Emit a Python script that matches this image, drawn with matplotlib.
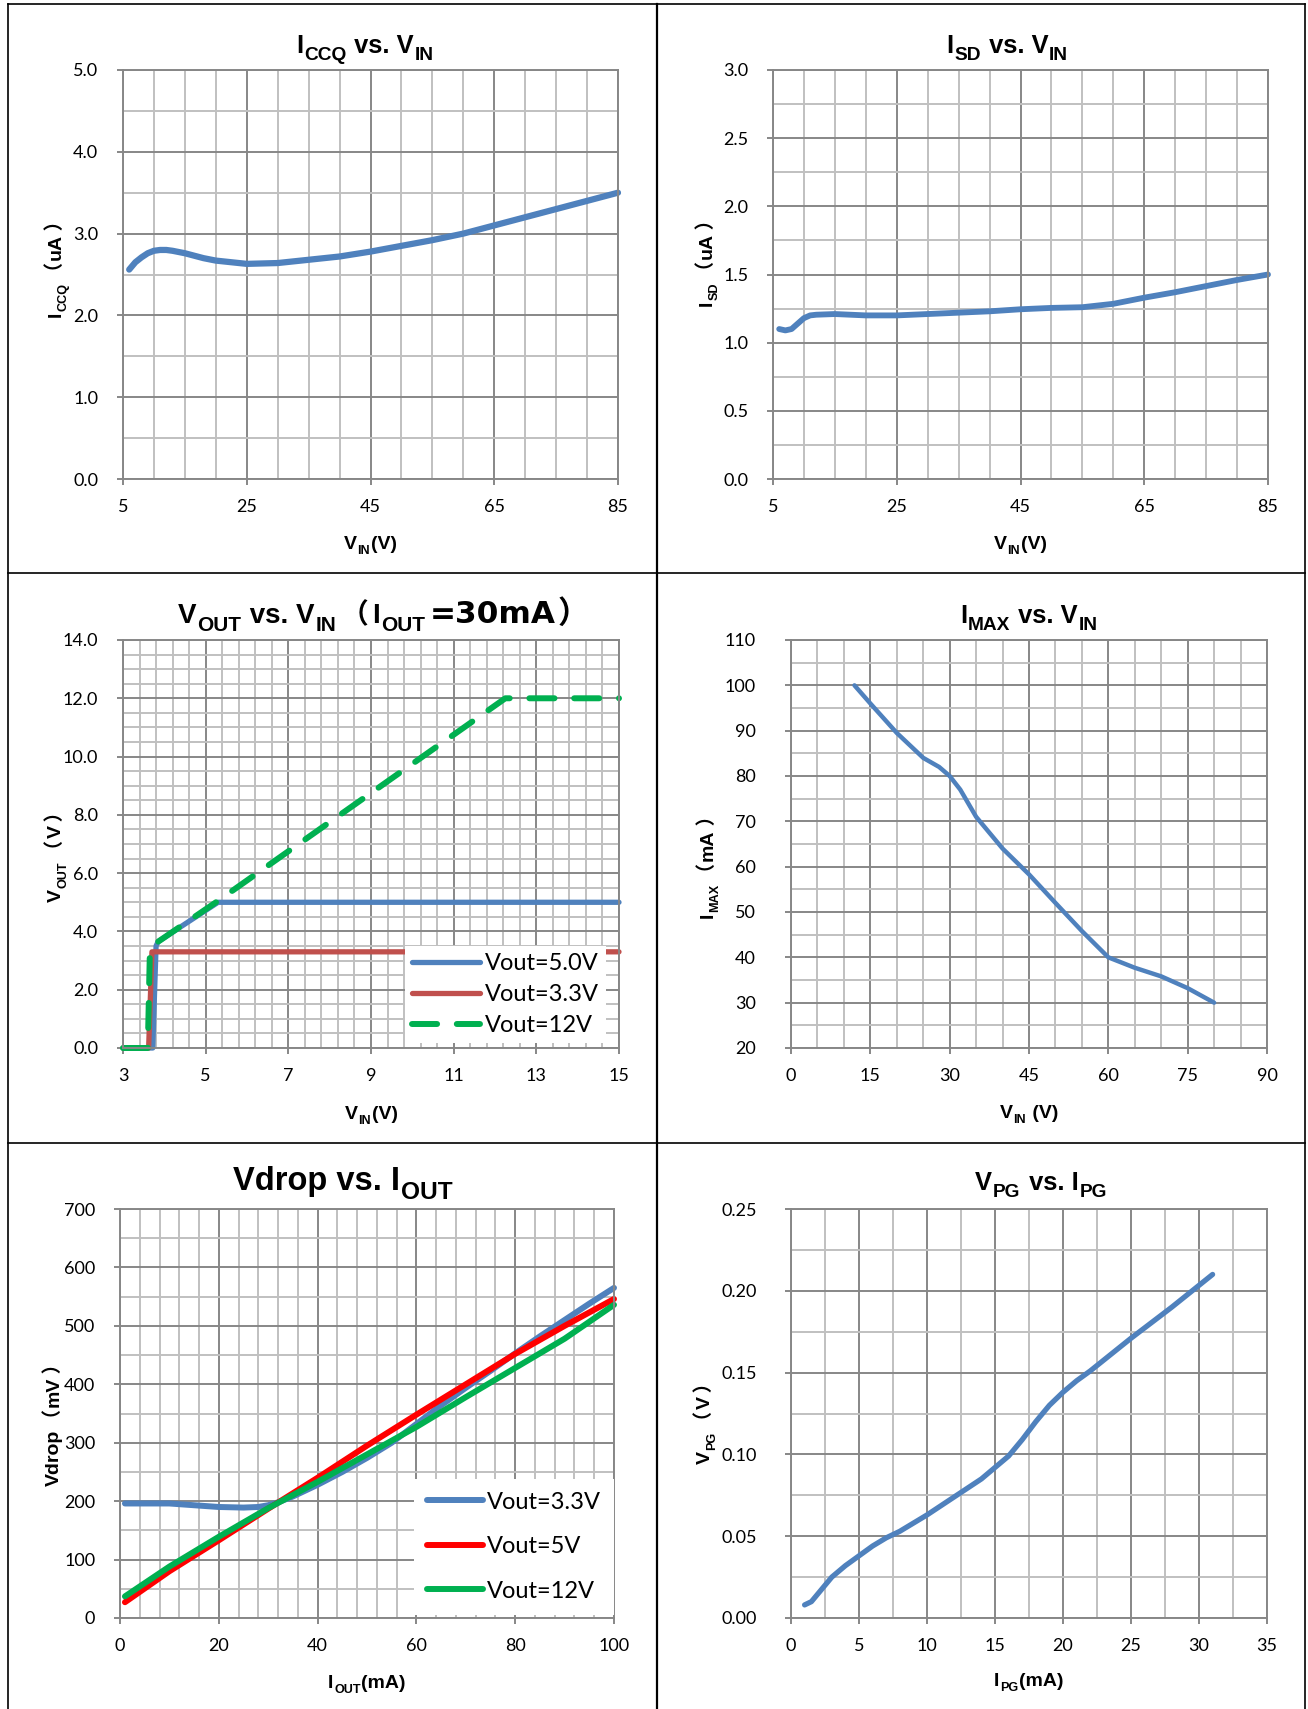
import numpy as np
import matplotlib
matplotlib.use('Agg')
import matplotlib.pyplot as plt
from matplotlib.ticker import FixedLocator, FormatStrFormatter
from matplotlib.transforms import IdentityTransform
from matplotlib.lines import Line2D

W, H, DPI = 1308, 1709, 100

# ---- Daten ----
# I_CCQ vs. V_IN
iccq_vin = [6, 7, 8, 9, 10, 11, 12, 13, 15, 18, 20, 25, 30, 35, 40, 45, 50, 55, 60, 65, 70, 75, 80, 85]
iccq_ua = [2.56, 2.65, 2.71, 2.76, 2.79, 2.80, 2.80, 2.79, 2.76, 2.70, 2.67, 2.63, 2.64, 2.68, 2.72,
           2.78, 2.85, 2.92, 3.00, 3.10, 3.20, 3.30, 3.40, 3.50]

# I_SD vs. V_IN
isd_vin = [6, 7, 8, 9, 10, 11, 12, 15, 20, 25, 30, 35, 40, 45, 50, 55, 60, 65, 70, 75, 80, 85]
isd_ua = [1.10, 1.09, 1.10, 1.14, 1.18, 1.20, 1.205, 1.21, 1.20, 1.20, 1.21, 1.22, 1.23, 1.245,
          1.255, 1.26, 1.285, 1.33, 1.37, 1.415, 1.46, 1.50]

# V_OUT vs. V_IN (I_OUT = 30mA)
vout5_vin = [3.0, 3.72, 3.80, 3.85, 5.3, 15.0]
vout5 = [0.0, 0.0, 3.5, 3.65, 5.0, 5.0]
vout33_vin = [3.0, 3.62, 3.70, 15.0]
vout33 = [0.0, 0.0, 3.3, 3.3]
vout12_vin = [3.0, 3.60, 3.65, 3.80, 5.3, 12.25, 15.0]
vout12 = [0.0, 0.0, 3.3, 3.6, 5.05, 12.0, 12.0]

# I_MAX vs. V_IN
imax_vin = [12, 15, 20, 25, 28, 30, 32, 35, 40, 45, 50, 55, 60, 65, 70, 75, 80]
imax_ma = [100, 96, 89.5, 84, 82, 80, 77, 71, 64, 58.3, 52, 45.8, 40, 37.7, 35.8, 33.2, 30]

# Vdrop vs. I_OUT
vd33_iout = [1, 5, 10, 15, 20, 25, 28, 30, 32, 35, 40, 45, 50, 55, 60, 65, 70, 75, 80, 85, 90, 95, 100]
vd33_mv = [196, 196, 196, 193, 190, 189, 190, 193, 198, 208, 228, 250, 274, 300, 332, 364, 394,
           423, 453, 482, 510, 538, 565]
vd5_iout = [1, 10, 20, 30, 40, 50, 60, 70, 80, 90, 100]
vd5_mv = [27, 80, 133, 187, 240, 295, 348, 400, 452, 500, 546]
vd12_iout = [1, 10, 20, 30, 40, 50, 60, 70, 80, 90, 100]
vd12_mv = [37, 88, 139, 188, 233, 280, 327, 378, 428, 478, 536]

# V_PG vs. I_PG
vpg_ipg = [1, 1.5, 2, 3, 4, 5, 6, 7, 8, 10, 12, 14, 15, 16, 17, 18, 19, 20, 21, 22, 25, 28, 31]
vpg_v = [0.008, 0.010, 0.015, 0.025, 0.032, 0.038, 0.044, 0.049, 0.053, 0.063, 0.074, 0.085,
         0.092, 0.099, 0.109, 0.120, 0.130, 0.138, 0.145, 0.151, 0.171, 0.190, 0.210]

# Achsenteilungen
ticks_vin85 = [5, 25, 45, 65, 85]
ticks_iccq = [0, 1, 2, 3, 4, 5]
ticks_isd = [0, 0.5, 1.0, 1.5, 2.0, 2.5, 3.0]
ticks_vin15 = [3, 5, 7, 9, 11, 13, 15]
ticks_vout = [0, 2, 4, 6, 8, 10, 12, 14]
ticks_vin90 = [0, 15, 30, 45, 60, 75, 90]
ticks_imax = [20, 30, 40, 50, 60, 70, 80, 90, 100, 110]
ticks_iout = [0, 20, 40, 60, 80, 100]
ticks_vdrop = [0, 100, 200, 300, 400, 500, 600, 700]
ticks_ipg = [0, 5, 10, 15, 20, 25, 30, 35]
ticks_vpg = [0, 0.05, 0.10, 0.15, 0.20, 0.25]

BLUE = '#4F81BD'
RED = '#C0504D'
GREEN = '#00B050'
GRID_MAJ = '#878787'
GRID_MIN = '#C0C0C0'
TXT_FONT = ['Liberation Sans', 'Noto Sans CJK SC', 'DejaVu Sans']
WIDE_FONT = ['DejaVu Sans', 'Noto Sans CJK SC']
HAIR = '\u200a'  # schmales Leerzeichen als Anker vor den vollbreiten Klammern

plt.rcParams['font.family'] = ['Lato', 'DejaVu Sans']

fig = plt.figure(figsize=(W / DPI, H / DPI), dpi=DPI)
fig.patch.set_facecolor('white')
renderer = fig.canvas.get_renderer()


def rich(parts, center, base, size, vertical=False, sub_scale=0.75, drop=0.28, gap=0.04):
    # Text mit Tiefstellungen aus Einzelstuecken zusammensetzen (Pixel, oben = 0)
    # Teil: (text, tiefgestellt, Abstand davor in px, Schriftfamilie, Groessenfaktor)
    px = size * DPI / 72
    items = []
    for i, p in enumerate(parts):
        s, sub = p[0], p[1]
        pre = p[2] if len(p) > 2 else gap * px
        fam = p[3] if len(p) > 3 and p[3] else TXT_FONT
        scale = p[4] if len(p) > 4 else 1.0
        fs = size * scale * (sub_scale if sub else 1.0)
        t = fig.text(0, 0, s, fontsize=fs, fontweight='bold', family=fam, ha='left',
                     va='baseline', rotation_mode='anchor', transform=IdentityTransform())
        items.append((t, t.get_window_extent(renderer).width, sub, pre if i else 0))
    total = sum(w + pre for _, w, _, pre in items)
    pos = -total / 2
    for t, w, sub, pre in items:
        pos += pre
        d = drop * px if sub else 0
        if vertical:
            t.set_position((base + d, (H - center) + pos))
            t.set_rotation(90)
        else:
            t.set_position((center + pos, H - base - d))
        pos += w


def make_axes(rect, xlim, xticks, xstep, ylim, yticks, ystep, yfmt, ypad, xpad=10):
    l, r, t, b = rect
    ax = fig.add_axes([l / W, 1 - b / H, (r - l) / W, (b - t) / H])
    ax.set_xlim(xlim)
    ax.set_ylim(ylim)
    ax.xaxis.set_major_locator(FixedLocator(xticks))
    ax.yaxis.set_major_locator(FixedLocator(yticks))
    ax.xaxis.set_minor_locator(FixedLocator(np.arange(xlim[0], xlim[1] + xstep / 2, xstep)))
    ax.yaxis.set_minor_locator(FixedLocator(np.arange(ylim[0], ylim[1] + ystep / 2, ystep)))
    ax.yaxis.set_major_formatter(FormatStrFormatter(yfmt))
    ax.grid(which='minor', color=GRID_MIN, lw=1.4)
    ax.grid(which='major', color=GRID_MAJ, lw=1.4)
    ax.set_axisbelow(True)
    for sp in ax.spines.values():
        sp.set_color(GRID_MAJ)
        sp.set_linewidth(1.4)
    ax.tick_params(which='major', direction='out', length=4.3, width=1.4, color=GRID_MAJ,
                   labelsize=13, labelcolor='black')
    ax.tick_params(axis='y', which='major', pad=ypad)
    ax.tick_params(axis='x', which='major', pad=xpad)
    ax.tick_params(which='minor', length=0)
    return ax


def ylabel(name, sub, unit, center, base):
    # Einheit in vollbreiten Klammern wie im Original
    parts = [(name, 0)]
    if sub:
        parts.append((sub, 1))
    parts += [(HAIR + '（', 0, 0), (unit, 0, 2), (HAIR + '）', 0, 2)]
    rich(parts, center, base, 14, vertical=True, sub_scale=0.65)


LW = dict(solid_capstyle='round', solid_joinstyle='round', clip_on=False)
LEG = dict(loc='lower right', borderaxespad=0, frameon=True, fancybox=False, edgecolor='none',
           facecolor='white', framealpha=1)

# 1) I_CCQ vs. V_IN
ax1 = make_axes((123, 618, 70, 479), (5, 85), ticks_vin85, 5, (0, 5), ticks_iccq, 0.5, '%.1f', 13.5)
ax1.plot(iccq_vin, iccq_ua, color=BLUE, lw=4.5, **LW)
rich([('I', 0), ('CCQ', 1), (' vs. V', 0), ('IN', 1)], 365, 53, 18.4)
rich([('V', 0), ('IN', 1), ('(V)', 0)], 370, 549, 14, sub_scale=0.65)
ylabel('I', 'CCQ', 'uA', 264, 61)

# 2) I_SD vs. V_IN
ax2 = make_axes((773, 1268, 70, 479), (5, 85), ticks_vin85, 5, (0, 3), ticks_isd, 0.25, '%.1f', 13.5)
ax2.plot(isd_vin, isd_ua, color=BLUE, lw=4.2, **LW)
rich([('I', 0), ('SD', 1), (' vs. V', 0), ('IN', 1)], 1007, 53, 18.4)
rich([('V', 0), ('IN', 1), ('(V)', 0)], 1020, 549, 14, sub_scale=0.65)
ylabel('I', 'SD', 'uA', 258, 712)

# 3) V_OUT vs. V_IN
ax3 = make_axes((123, 619, 640, 1048), (3, 15), ticks_vin15, 0.4, (0, 14), ticks_vout, 0.5, '%.1f', 13.5)
ax3.plot(vout5_vin, vout5, color=BLUE, lw=3.8, label='Vout=5.0V', **LW)
ax3.plot(vout33_vin, vout33, color=RED, lw=3.8, label='Vout=3.3V', **LW)
ax3.plot(vout12_vin, vout12, color=GREEN, lw=4.3, ls=(0, (4.2, 3.3)), dash_capstyle='round',
         clip_on=False, label='Vout=12V')
ax3.legend(bbox_to_anchor=(0.974, 0.012), fontsize=17, handlelength=2.9, handletextpad=0.2,
           labelspacing=0.42, borderpad=0.3, **LEG)
rich([('V', 0), ('OUT', 1), (' vs. V', 0), ('IN', 1), ('（', 0, 4, WIDE_FONT), ('I', 0, 4),
      ('OUT', 1), ('=30mA', 0, 4, WIDE_FONT, 1.12), ('）', 0, 2, WIDE_FONT, 1.12)], 383, 623, 20)
rich([('V', 0), ('IN', 1), ('(V)', 0)], 371, 1119, 14, sub_scale=0.65)
ylabel('V', 'OUT', 'V', 852, 61)

# 4) I_MAX vs. V_IN
ax4 = make_axes((791, 1267, 640, 1048), (0, 90), ticks_vin90, 5, (20, 110), ticks_imax, 5, '%d', 21)
ax4.plot(imax_vin, imax_ma, color=BLUE, lw=3.2, **LW)
rich([('I', 0), ('MAX', 1), (' vs. V', 0), ('IN', 1)], 1029, 623, 18.4)
rich([('V', 0), ('IN', 1), (' (V)', 0)], 1029, 1118, 14, sub_scale=0.65)
ylabel('I', 'MAX', 'mA', 862, 713)

# 5) Vdrop vs. I_OUT
ax5 = make_axes((120, 614, 1209, 1618), (0, 100), ticks_iout, 4, (0, 700), ticks_vdrop, 50, '%d', 13.5)
ax5.plot(vd33_iout, vd33_mv, color=BLUE, lw=4.3, label='Vout=3.3V', **LW)
ax5.plot(vd5_iout, vd5_mv, color='#FF0000', lw=4.3, label='Vout=5V', **LW)
ax5.plot(vd12_iout, vd12_mv, color=GREEN, lw=4.3, label='Vout=12V', **LW)
ax5.legend(bbox_to_anchor=(1.0, 0.008), fontsize=17, handlelength=2.4, handletextpad=0.15,
           labelspacing=1.0, borderpad=0.55, **LEG)
rich([('Vdrop vs. I', 0), ('OUT', 1)], 343, 1190, 23.5)
rich([('I', 0), ('OUT', 1), ('(mA)', 0)], 367, 1688, 14, sub_scale=0.65)
ylabel('Vdrop', '', 'mV', 1420, 59)

# 6) V_PG vs. I_PG
ax6 = make_axes((791, 1267, 1209, 1618), (0, 35), ticks_ipg, 2.5, (0, 0.25), ticks_vpg, 0.025, '%.2f', 20)
ax6.plot(vpg_ipg, vpg_v, color=BLUE, lw=3.8, **LW)
rich([('V', 0), ('PG', 1), (' vs. I', 0), ('PG', 1)], 1041, 1190, 18.4)
rich([('I', 0), ('PG', 1), ('(mA)', 0)], 1029, 1686, 14, sub_scale=0.65)
ylabel('V', 'PG', 'V', 1418, 710)


# Tabellenrahmen
def frame_line(x0, y0, x1, y1, lw):
    fig.add_artist(Line2D([x0, x1], [H - y0, H - y1], color='black', lw=lw,
                          transform=IdentityTransform()))


frame_line(7.5, 3.5, 1305, 3.5, 1.2)
frame_line(7.5, 3.5, 7.5, H, 1.2)
frame_line(1305, 3.5, 1305, H, 1.2)
frame_line(656.5, 3.5, 656.5, H, 1.6)
frame_line(7.5, 573, 1305, 573, 1.2)
frame_line(7.5, 1143, 1305, 1143, 1.2)

fig.savefig('out.png', dpi=DPI)
